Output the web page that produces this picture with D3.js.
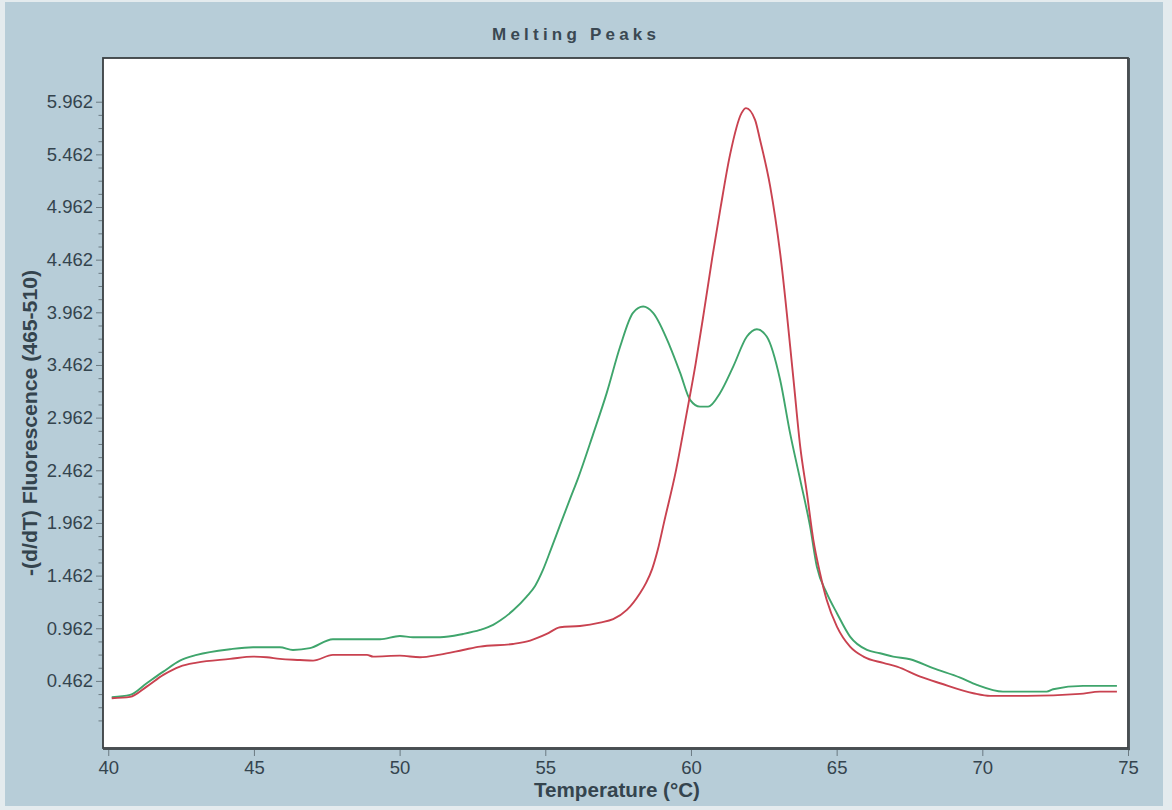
<!DOCTYPE html>
<html>
<head>
<meta charset="utf-8">
<script src="https://cdn.jsdelivr.net/npm/d3@7"></script>
<style>
  html, body { margin: 0; padding: 0; background: #e4ebee; }
  svg { display: block; }
</style>
</head>
<body>
<svg id="chart" width="1172" height="810"></svg>
<script>
// Melting peak curves: temperature (°C) and -(d/dT) fluorescence (465-510)
const redTemp = [40.12, 40.75, 41.32, 41.89, 42.46, 43.04, 44.18, 44.97, 45.44, 45.89, 46.58, 47.03, 47.71, 48.88, 49.09, 50.01, 50.70, 51.39, 52.18, 52.76, 53.89, 54.48, 55.05, 55.51, 56.19, 56.88, 57.33, 57.80, 58.25, 58.46, 58.67, 58.87, 59.08, 59.49, 59.83, 60.16, 60.45, 60.73, 61.02, 61.34, 61.74, 61.89, 62.20, 62.37, 62.72, 63.06, 63.52, 63.75, 63.98, 64.20, 64.43, 64.66, 65.01, 65.46, 65.92, 66.60, 67.07, 67.87, 68.55, 69.69, 70.27, 71.53, 73.35, 74.03, 74.62];
const redValue = [0.298, 0.310, 0.408, 0.519, 0.598, 0.636, 0.671, 0.693, 0.687, 0.671, 0.661, 0.655, 0.709, 0.709, 0.693, 0.702, 0.687, 0.712, 0.756, 0.788, 0.813, 0.845, 0.908, 0.972, 0.984, 1.016, 1.048, 1.136, 1.295, 1.393, 1.526, 1.716, 1.972, 2.466, 2.969, 3.472, 3.975, 4.479, 4.963, 5.457, 5.856, 5.901, 5.790, 5.600, 5.156, 4.527, 3.321, 2.687, 2.245, 1.801, 1.485, 1.231, 0.978, 0.788, 0.693, 0.633, 0.598, 0.503, 0.440, 0.345, 0.320, 0.320, 0.339, 0.360, 0.360];

const greenTemp = [40.12, 40.75, 41.32, 41.89, 42.46, 43.04, 44.18, 44.97, 45.89, 46.34, 46.92, 47.71, 49.33, 50.01, 50.46, 51.39, 52.18, 52.76, 53.21, 53.45, 53.89, 54.36, 54.65, 54.92, 55.20, 55.51, 55.85, 56.13, 56.64, 57.11, 57.57, 58.01, 58.36, 58.70, 59.28, 59.63, 59.97, 60.31, 60.59, 61.00, 61.45, 61.92, 62.26, 62.60, 63.06, 63.40, 63.75, 64.09, 64.32, 64.66, 65.01, 65.46, 66.04, 66.49, 66.94, 67.52, 68.31, 69.24, 69.81, 70.71, 72.21, 72.43, 73.46, 74.62];
const greenValue = [0.307, 0.329, 0.440, 0.550, 0.655, 0.709, 0.763, 0.782, 0.782, 0.756, 0.773, 0.858, 0.858, 0.889, 0.877, 0.877, 0.908, 0.946, 0.994, 1.035, 1.130, 1.263, 1.364, 1.516, 1.716, 1.944, 2.190, 2.390, 2.803, 3.197, 3.637, 3.957, 4.017, 3.957, 3.637, 3.387, 3.131, 3.067, 3.067, 3.197, 3.447, 3.732, 3.802, 3.732, 3.321, 2.817, 2.371, 1.927, 1.547, 1.295, 1.105, 0.883, 0.756, 0.725, 0.693, 0.668, 0.583, 0.493, 0.424, 0.360, 0.360, 0.383, 0.415, 0.415];

const xTicks = [40, 45, 50, 55, 60, 65, 70, 75];
const yTicks = [0.462, 0.962, 1.462, 1.962, 2.462, 2.962, 3.462, 3.962, 4.462, 4.962, 5.462, 5.962];
const yMinorTicks = [0.087, 0.212, 0.337, 0.587, 0.712, 0.837, 1.087, 1.212, 1.337, 1.587, 1.712, 1.837, 2.087, 2.212, 2.337, 2.587, 2.712, 2.837, 3.087, 3.212, 3.337, 3.587, 3.712, 3.837, 4.087, 4.212, 4.337, 4.587, 4.712, 4.837, 5.087, 5.212, 5.337, 5.587, 5.712, 5.837];

const titleText = "Melting Peaks";
const xTitle = "Temperature (°C)";
const yTitle = "-(d/dT) Fluorescence (465-510)";

const svg = d3.select("#chart");
const W = 1172, H = 810;
const plot = { left: 103, top: 58, right: 1128, bottom: 748 };
const inkColor = "#34444e";
const fontFamily = "'Liberation Sans', Arial, sans-serif";

// Panel background
svg.append("rect").attr("x", 0).attr("y", 0).attr("width", W).attr("height", H).attr("fill", "#e4ebee");
svg.append("rect").attr("x", 5).attr("y", 2).attr("width", 1158).attr("height", 804).attr("fill", "#b7cdd8");

const x = d3.scaleLinear().domain([39.82, 75]).range([plot.left, plot.right]);
const y = d3.scaleLinear().domain([-0.175, 6.377]).range([plot.bottom, plot.top]);

// Plot area
svg.append("rect")
  .attr("x", plot.left).attr("y", plot.top)
  .attr("width", plot.right - plot.left).attr("height", plot.bottom - plot.top)
  .attr("fill", "#ffffff");

svg.append("clipPath").attr("id", "plotClip")
  .append("rect")
  .attr("x", plot.left).attr("y", plot.top)
  .attr("width", plot.right - plot.left).attr("height", plot.bottom - plot.top);

const line = d3.line()
  .x(d => x(d[0]))
  .y(d => y(d[1]))
  .curve(d3.curveMonotoneX);

const series = [
  { temp: greenTemp, value: greenValue, color: "#3fa56c" },
  { temp: redTemp, value: redValue, color: "#c94250" }
];

const lines = svg.append("g").attr("clip-path", "url(#plotClip)");
series.forEach(s => {
  lines.append("path")
    .datum(s.temp.map((t, i) => [t, s.value[i]]))
    .attr("fill", "none")
    .attr("stroke", s.color)
    .attr("stroke-width", 1.9)
    .attr("stroke-linejoin", "round")
    .attr("d", line);
});

// Frame, heavier on the right and bottom edges
svg.append("rect")
  .attr("x", plot.left).attr("y", plot.top)
  .attr("width", plot.right - plot.left).attr("height", plot.bottom - plot.top)
  .attr("fill", "none").attr("stroke", "#3a3f42").attr("stroke-width", 1.8);
svg.append("line")
  .attr("x1", plot.right + 1.2).attr("x2", plot.right + 1.2)
  .attr("y1", plot.top).attr("y2", plot.bottom + 2.2)
  .attr("stroke", "#4a5155").attr("stroke-width", 1.5);
svg.append("line")
  .attr("x1", plot.left).attr("x2", plot.right + 2)
  .attr("y1", plot.bottom + 1.2).attr("y2", plot.bottom + 1.2)
  .attr("stroke", "#4a5155").attr("stroke-width", 1.5);

// X axis
const xAxis = d3.axisBottom(x)
  .tickValues(xTicks)
  .tickSize(6)
  .tickPadding(5)
  .tickFormat(d3.format("d"));
const gx = svg.append("g")
  .attr("transform", `translate(0,${plot.bottom + 2})`)
  .call(xAxis);
gx.select(".domain").remove();
gx.selectAll(".tick line").attr("stroke", "#6b7a82").attr("stroke-width", 1);
gx.selectAll(".tick text")
  .attr("fill", inkColor)
  .style("font-family", fontFamily)
  .style("font-size", "18.5px");

// Y axis: labelled ticks and minor ticks
const yAxis = d3.axisLeft(y)
  .tickValues(yTicks)
  .tickSize(6)
  .tickPadding(3)
  .tickFormat(d3.format(".3f"));
const gy = svg.append("g")
  .attr("transform", `translate(${plot.left - 1},0)`)
  .call(yAxis);
gy.select(".domain").remove();
gy.selectAll(".tick line").attr("stroke", "#6b7a82").attr("stroke-width", 1);
gy.selectAll(".tick text")
  .attr("fill", inkColor)
  .style("font-family", fontFamily)
  .style("font-size", "18.5px");

const yMinorAxis = d3.axisLeft(y)
  .tickValues(yMinorTicks)
  .tickSize(3.5)
  .tickFormat("");
const gyMinor = svg.append("g")
  .attr("transform", `translate(${plot.left - 1},0)`)
  .call(yMinorAxis);
gyMinor.select(".domain").remove();
gyMinor.selectAll(".tick line").attr("stroke", "#6b7a82").attr("stroke-width", 1);

// Titles
svg.append("text")
  .attr("x", 574).attr("y", 40)
  .attr("text-anchor", "middle")
  .attr("textLength", 164)
  .attr("lengthAdjust", "spacing")
  .attr("fill", "#3a4852")
  .style("font-family", fontFamily)
  .style("font-weight", "bold")
  .style("font-size", "17px")
  .text(titleText);

svg.append("text")
  .attr("x", 617).attr("y", 797)
  .attr("text-anchor", "middle")
  .attr("textLength", 166)
  .attr("lengthAdjust", "spacingAndGlyphs")
  .attr("fill", inkColor)
  .style("font-family", fontFamily)
  .style("font-weight", "bold")
  .style("font-size", "21px")
  .text(xTitle);

svg.append("text")
  .attr("transform", "translate(37,423) rotate(-90)")
  .attr("text-anchor", "middle")
  .attr("textLength", 306)
  .attr("lengthAdjust", "spacingAndGlyphs")
  .attr("fill", inkColor)
  .style("font-family", fontFamily)
  .style("font-weight", "bold")
  .style("font-size", "20px")
  .text(yTitle);
</script>
</body>
</html>
